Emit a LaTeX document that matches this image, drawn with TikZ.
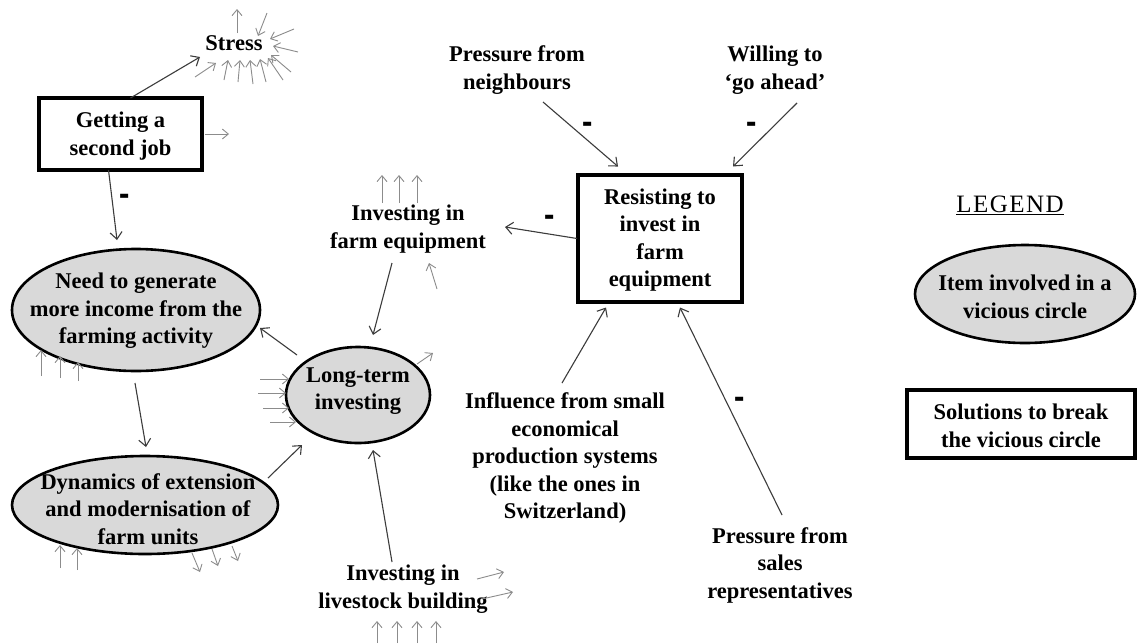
\documentclass[tikz,border=0pt]{standalone}
\usepackage{fontspec}
\setmainfont{Liberation Serif}
\newfontfamily\legfont[LetterSpace=6]{Liberation Serif}
\usetikzlibrary{arrows.meta,shapes.geometric,calc}
\definecolor{vcfill}{HTML}{D9D9D9}
\definecolor{arrcol}{HTML}{3C3C3C}
\definecolor{stubcol}{HTML}{8C8C8C}
\tikzset{
  txt/.style={align=center, font=\bfseries\fontsize{22.5}{27.5}\selectfont, inner sep=0pt},
  vc/.style={ellipse, draw=black, line width=2.6pt, fill=vcfill, inner sep=0pt},
  sol/.style={rectangle, draw=black, line width=3.4pt, fill=white, inner sep=0pt},
  arr/.style={draw=arrcol, line width=1.1pt, -{Straight Barb[length=7pt,width=12pt,line width=1.1pt]}},
  stub/.style={draw=stubcol, line width=0.9pt, -{Straight Barb[length=6pt,width=10pt,line width=0.9pt]}},
  minus/.style={font=\bfseries\fontsize{28}{28}\selectfont, inner sep=0pt},
}
\newcommand{\mbar}{\scalebox{1.1}[1.7]{-}}
\begin{document}
\begin{tikzpicture}[x=1pt,y=-1pt]
\fill[white] (0,0) rectangle (1137,643);
\useasboundingbox (0,0) rectangle (1137,643);

% ---- shapes
\node[sol, minimum width=163, minimum height=72] (gj) at (120.5,134) {};
\node[txt] (gjt) at (120.5,136) {Getting a\\second job};

\node[vc, minimum width=248, minimum height=122] (need) at (136,310) {};
\node[txt] (needt) at (136,311) {Need to generate\\more income from the\\farming activity};

\node[vc, minimum width=266, minimum height=98] (dyn) at (145,505) {};
\node[txt] (dynt) at (148,509) {Dynamics of extension\\and modernisation of\\farm units};

\node[vc, minimum width=144, minimum height=96] (lt) at (358,395) {};
\node[txt] (ltt) at (358,391) {Long-term\\investing};

\node[sol, minimum width=164, minimum height=127] (res) at (660,238.5) {};
\node[txt] (rest) at (660,240) {Resisting to\\invest in\\farm\\equipment};

\node[txt] (stress) at (234,43) {Stress};
\node[txt] (ife) at (408,229) {Investing in\\farm equipment};
\node[txt] (ilb) at (403,589) {Investing in\\livestock building};
\node[txt] (pn) at (517,70) {Pressure from\\neighbours};
\node[txt] (wg) at (775,70) {Willing to\\`go ahead'};
\node[txt] (inf) at (565,458) {Influence from small\\economical\\production systems\\(like the ones in\\Switzerland)};
\node[txt] (psr) at (780,565) {Pressure from\\sales\\representatives};

% ---- legend
\node[font=\legfont\fontsize{25}{29}\selectfont, inner sep=0pt] (legend) at (1010,205) {\underline{LEGEND}};
\node[vc, minimum width=220, minimum height=98] (lege) at (1025,294) {};
\node[txt] (leget) at (1025,297) {Item involved in a\\vicious circle};
\node[sol, minimum width=228, minimum height=68] (legb) at (1021,424) {};
\node[txt] (legbt) at (1021,426) {Solutions to break\\the vicious circle};

% ---- main connectors
\draw[arr] ($(gj)+(10,-36)$) -- ($(stress)+(-34,14)$);
\draw[arr] ($(gj)+(-12,36)$) -- ($(need)+(-19,-70)$);
\draw[arr] ($(need)+(-1,73)$) -- ($(dyn)+(1,-58)$);
\draw[arr] ($(dyn)+(123,-27)$) -- ($(lt)+(-56,50)$);
\draw[arr] ($(lt)+(-61,-40)$) -- ($(need)+(124,18)$);
\draw[arr] ($(ife)+(-16,34)$) -- ($(lt)+(15,-60)$);
\draw[arr] ($(ilb)+(-11,-27)$) -- ($(lt)+(15,55)$);
\draw[arr] ($(res)+(-83,0)$) -- ($(ife)+(97,-2)$);
\draw[arr] ($(pn)+(26,32)$) -- ($(res)+(-42,-72)$);
\draw[arr] ($(wg)+(22,33)$) -- ($(res)+(73,-72)$);
\draw[arr] ($(inf)+(-3,-75)$) -- ($(res)+(-54,69)$);
\draw[arr] ($(psr)+(2,-50)$) -- ($(res)+(20,69)$);

% ---- minus labels
\node[minus] (m1) at (125,201) {\mbar};
\node[minus] (m2) at (550,222) {\mbar};
\node[minus] (m3) at (588,129) {\mbar};
\node[minus] (m4) at (752,129) {\mbar};
\node[minus] (m5) at (740,404) {\mbar};

% ---- stub arrows around Stress
\draw[stub] (237,33) -- (237,9);
\draw[stub] (267,13) -- (258,36);
\draw[stub] (294,29) -- (270,39);
\draw[stub] (298,52) -- (273,46);
\draw[stub] (291,72) -- (271,55);
\draw[stub] (283,80) -- (268,58);
\draw[stub] (266,82) -- (260,59);
\draw[stub] (253,84) -- (250,60);
\draw[stub] (238,82) -- (240,60);
\draw[stub] (224,80) -- (228,60);
\draw[stub] (195,77) -- (216,63);
% ---- stubs elsewhere
\draw[stub] (205,134) -- (229,134);
\draw[stub] (41,376) -- (41,350);
\draw[stub] (60,378) -- (60,356);
\draw[stub] (78,381) -- (78,362);
\draw[stub] (60,568) -- (60,545);
\draw[stub] (77,570) -- (77,548);
\draw[stub] (192,553) -- (200,572);
\draw[stub] (212,549) -- (218,566);
\draw[stub] (232,546) -- (238,561);
\draw[stub] (260,379) -- (289,379);
\draw[stub] (258,393) -- (286,393);
\draw[stub] (263,408) -- (289,408);
\draw[stub] (270,422) -- (296,422);
\draw[stub] (417,364) -- (433,353);
\draw[stub] (382,203) -- (382,175);
\draw[stub] (399,203) -- (399,175);
\draw[stub] (417,203) -- (417,175);
\draw[stub] (437,289) -- (429,263);
\draw[stub] (477,579) -- (504,572);
\draw[stub] (482,599) -- (513,592);
\draw[stub] (377,643) -- (377,621);
\draw[stub] (397,643) -- (397,621);
\draw[stub] (417,643) -- (417,621);
\draw[stub] (436,643) -- (436,621);
\end{tikzpicture}
\end{document}
